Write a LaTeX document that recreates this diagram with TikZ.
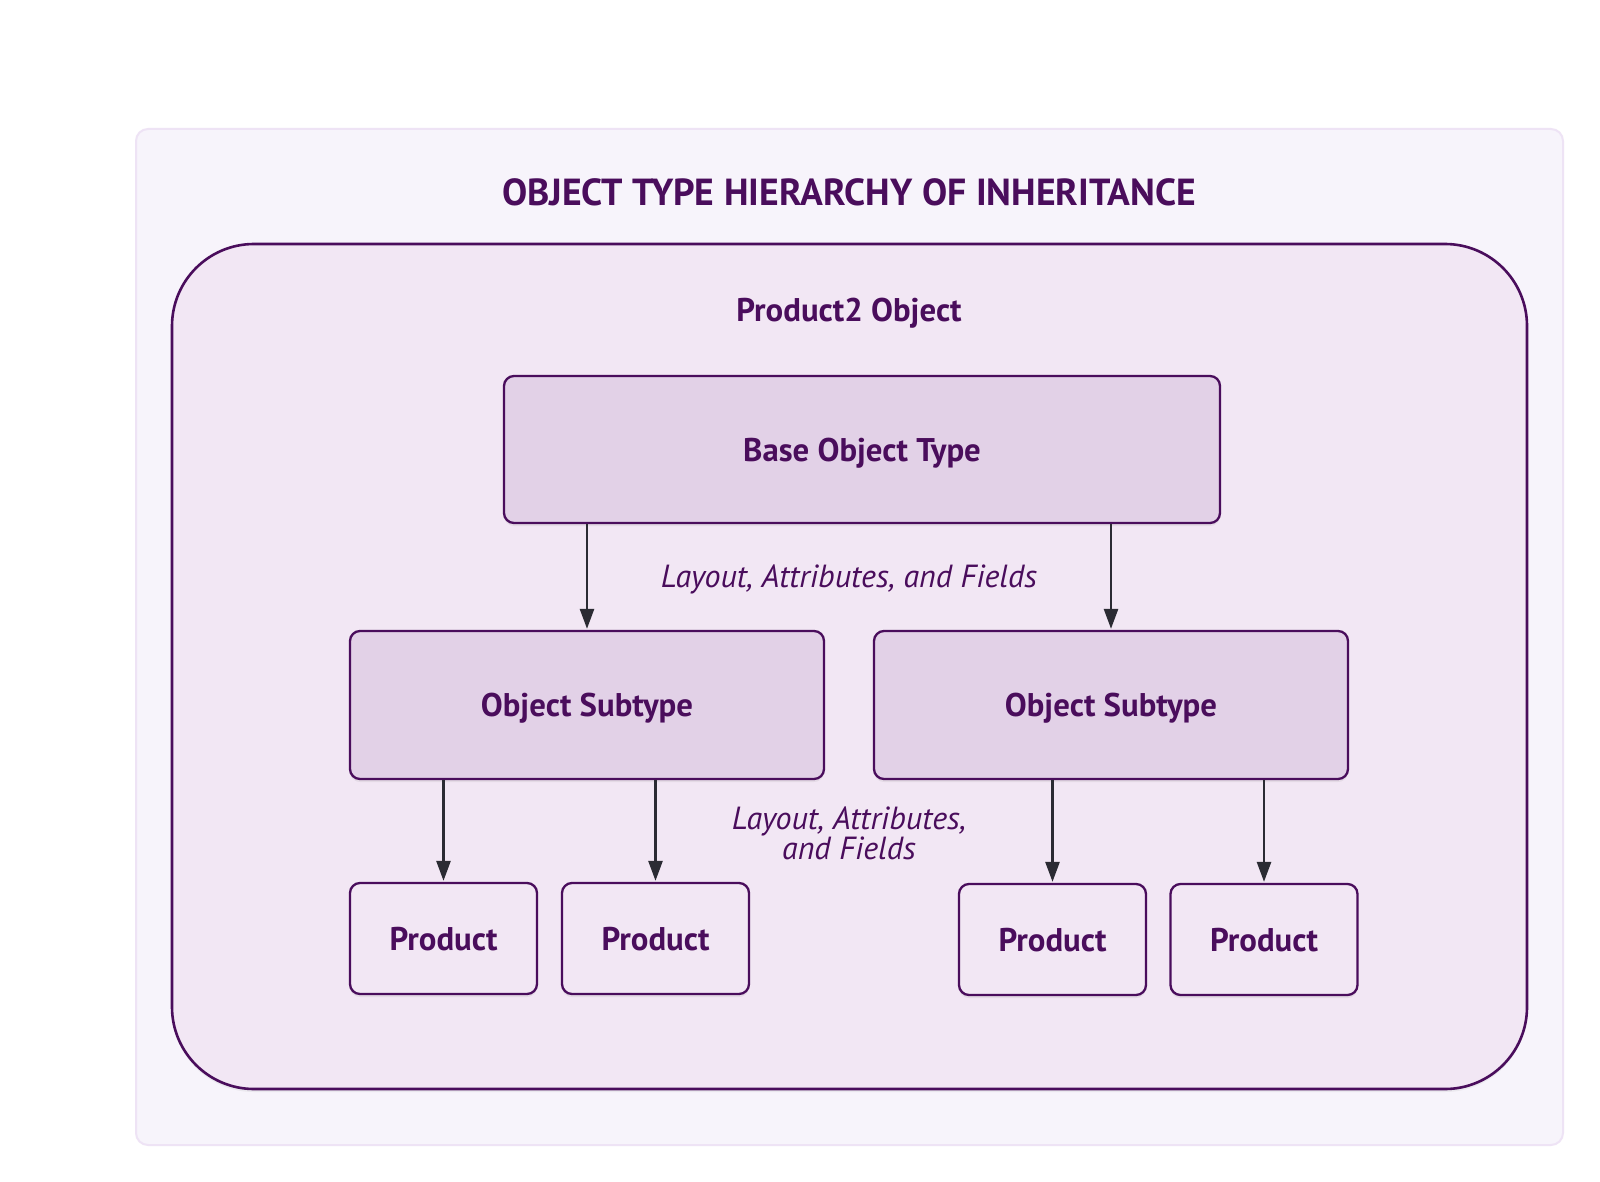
\documentclass[tikz,border=0pt]{standalone}
\usepackage{fontspec}
\setmainfont{PT Sans}
\usetikzlibrary{shadows,arrows.meta}

\definecolor{plum}{HTML}{4A0D5C}
\definecolor{framebg}{HTML}{F7F4FB}
\definecolor{frameline}{HTML}{EEE3F5}
\definecolor{innerbg}{HTML}{F2E7F4}
\definecolor{typebg}{HTML}{E2D1E7}
\definecolor{arrowgray}{HTML}{2B2B33}

\begin{document}
\begin{tikzpicture}[x = 1pt, y = -1pt,
    typebox/.style = {draw = plum, line width = 2.3pt, fill = typebg, rounded corners = 10pt,
        text = plum, text depth = 0pt, font = \fontsize{32.8}{38}\selectfont\bfseries,
        drop shadow = {shadow xshift = 0pt, shadow yshift = -3pt, opacity = 0.12}},
    prodbox/.style = {typebox, fill = innerbg, minimum width = 187pt, minimum height = 111pt},
    inherit/.style = {draw = arrowgray, line width = 2.6pt, -{Triangle[length = 20pt, width = 14pt]}, shorten > = 1pt},
    note/.style = {text = plum, font = \fontsize{32}{30}\selectfont\itshape, align = center}]
    \fill[white] (0,0) rectangle (1600,1182);
    \useasboundingbox (0,0) rectangle (1600,1182);
    % frame and container
    \node (frame) [draw = frameline, line width = 2pt, fill = framebg, rounded corners = 12pt,
        minimum width = 1427pt, minimum height = 1016pt, inner sep = 0pt] at (849.5,637) {};
    \node (container) [draw = plum, line width = 2.6pt, fill = innerbg, rounded corners = 82pt,
        minimum width = 1355pt, minimum height = 845pt, inner sep = 0pt,
        drop shadow = {shadow xshift = 0pt, shadow yshift = -3pt, opacity = 0.1}] at (849.5,666.5) {};
    \node (title) [text = plum, font = \fontsize{37.7}{44}\selectfont\bfseries] at (849,192) {OBJECT TYPE HIERARCHY OF INHERITANCE};
    \node (product2) [text = plum, text depth = 0pt, font = \fontsize{32.8}{38}\selectfont\bfseries] at (849,310) {Product2 Object};
    % types
    \node (base) [typebox, minimum width = 716pt, minimum height = 147pt] at (862,449.5) {Base Object Type};
    \node (subA) [typebox, minimum width = 474pt, minimum height = 148pt] at (587,705) {Object Subtype};
    \node (subB) [typebox, minimum width = 474pt, minimum height = 148pt] at (1111,705) {Object Subtype};
    % products
    \node (prodA1) [prodbox] at (443.5,938.5) {Product};
    \node (prodA2) [prodbox] at (655.5,938.5) {Product};
    \node (prodB1) [prodbox] at (1052.5,939.5) {Product};
    \node (prodB2) [prodbox] at (1264,939.5) {Product};
    % inheritance
    \draw [inherit] (base.south -| subA.north) -- (subA.north);
    \draw [inherit] (base.south -| subB.north) -- (subB.north);
    \draw [inherit] (subA.south -| prodA1.north) -- (prodA1.north);
    \draw [inherit] (subA.south -| prodA2.north) -- (prodA2.north);
    \draw [inherit] (subB.south -| prodB1.north) -- (prodB1.north);
    \draw [inherit] (subB.south -| prodB2.north) -- (prodB2.north);
    \node (noteTop) [note] at (849,579) {Layout, Attributes, and Fields};
    \node (noteLow) [note] at (849,833) {Layout, Attributes,\\and Fields};
\end{tikzpicture}
\end{document}
